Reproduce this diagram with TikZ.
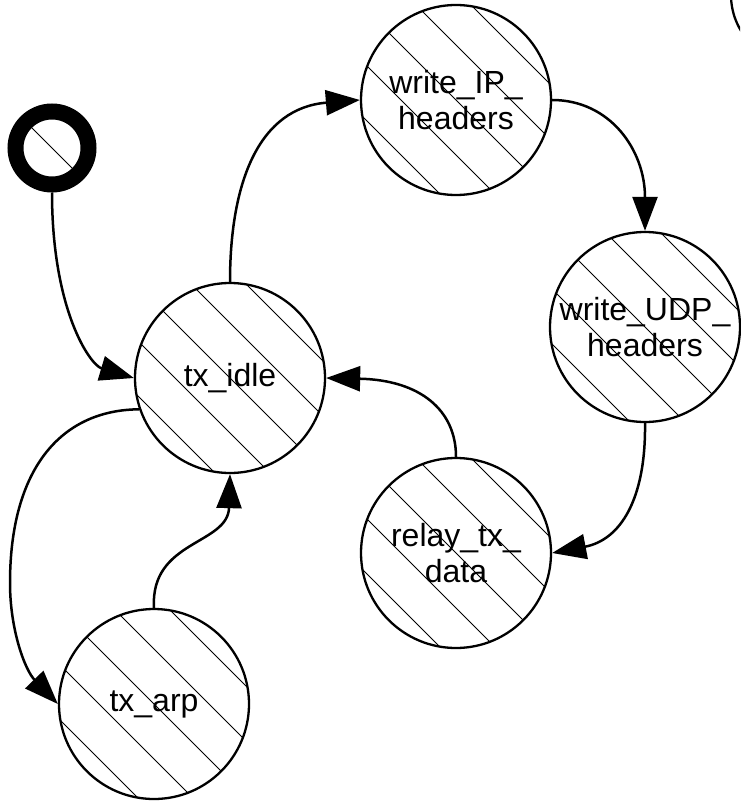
\documentclass[tikz,border=0pt]{standalone}
\usepackage{fontspec}
\setmainfont{Liberation Sans}
\usetikzlibrary{arrows.meta,calc}
\tikzset{
  hatch/.style={path picture={
    \foreach \k in {#1}{
      \draw[line width=0.9pt] ($(path picture bounding box.center)+(27.5*\k-130,-27.5*\k-130)$) -- ($(path picture bounding box.center)+(27.5*\k+130,-27.5*\k+130)$);
    }}},
  state/.style={circle, draw, line width=2.3pt, minimum size=190pt, inner sep=0pt, align=center,
    font=\fontsize{32}{36}\selectfont, hatch={-2,-1,0,1,2}},
  startstate/.style={circle, draw, line width=16pt, minimum size=73pt, inner sep=0pt, hatch={0}},
  conn/.style={line width=2.5pt, -{Triangle[length=34pt,width=25pt]}},
}
\begin{document}
\begin{tikzpicture}[x=1pt,y=-1pt]
\useasboundingbox (0,0) rectangle (740,802);
\fill[white] (0,0) rectangle (740,802);
\node[startstate] (start) at (52,148) {};
\node[state] (idle) at (230,378) {tx\_idle};
\node[state] (ip) at (456,100) {write\_IP\_\\headers};
\node[state] (udp) at (645,327) {write\_UDP\_\\headers};
\node[state] (relay) at (456,553) {relay\_tx\_\\data};
\node[state] (arp) at (154,704) {tx\_arp};
\begin{scope}
\clip (0,0) rectangle (740,802);
\node[state, minimum size=138pt] (extra) at (800,-5) {};
\end{scope}
\draw[conn] (start.south) .. controls (52,310) and (90,365) .. (idle.west);
\draw[conn] (idle.north) .. controls (230,180) and (260,108) .. (ip.west);
\draw[conn] (ip.east) .. controls (610,100) and (645,150) .. (udp.north);
\draw[conn] (udp.south) .. controls (646,500) and (620,540) .. (relay.east);
\draw[conn] (relay.north) .. controls (456,410) and (420,380) .. (idle.east);
\draw[conn] (idle.199) .. controls (60,410) and (10,470) .. (10,583) .. controls (10,630) and (25,670) .. (arp.west);
\draw[conn] (arp.north) .. controls (150,540) and (228,545) .. (idle.south);
\end{tikzpicture}
\end{document}
